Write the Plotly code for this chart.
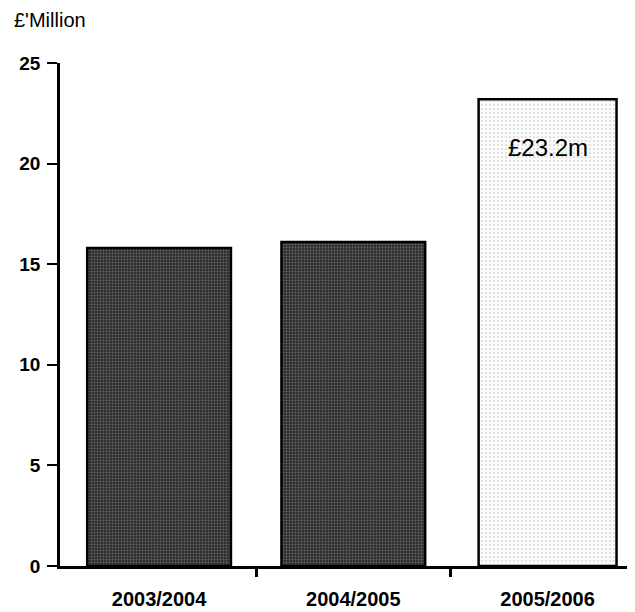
import plotly.graph_objects as go

categories = ["2003/2004", "2004/2005", "2005/2006"]
values = [15.8, 16.1, 23.2]
bar_label = "£23.2m"
y_title = "£'Million"

FONT = "Liberation Sans, Arial"
fig = go.Figure()
xpos = list(range(len(categories)))

fig.add_trace(go.Bar(
    x=xpos[:2], y=values[:2], width=0.74,
    marker=dict(color="#3a3a3a", line=dict(color="black", width=2.5),
                pattern=dict(shape=".", fgcolor="#a0a0a0", bgcolor="#2e2e2e", size=3, solidity=0.3)),
    hoverinfo="skip",
))
fig.add_trace(go.Bar(
    x=xpos[2:], y=values[2:], width=0.71,
    marker=dict(color="white", line=dict(color="black", width=2.5),
                pattern=dict(shape=".", fgcolor="#b5b5b5", bgcolor="#fbfbfb", size=4, solidity=0.2)),
    hoverinfo="skip",
))

fig.add_annotation(x=2, y=20.8, xref="x", yref="y", text=bar_label, showarrow=False,
                   font=dict(family=FONT, size=24, color="black"))
fig.add_annotation(x=-48/575, y=1 + 43/503, xref="paper", yref="paper", text=y_title,
                   showarrow=False, xanchor="left", yanchor="middle",
                   font=dict(family=FONT, size=20, color="black"))

fig.update_layout(
    width=627, height=604,
    margin=dict(l=52, r=0, t=55, b=46, pad=0),
    plot_bgcolor="white", paper_bgcolor="white",
    showlegend=False, barmode="overlay",
    xaxis=dict(range=[-0.51, 2.45], tickvals=xpos, ticktext=categories, ticks="",
               showline=True, linecolor="black", linewidth=2.5, showgrid=False, zeroline=False,
               tickfont=dict(family=FONT, size=20, color="black", weight="bold"),
               ticklabelstandoff=13, automargin=False,
               minor=dict(tickvals=[0.5, 1.5], ticks="outside", ticklen=8, tickwidth=2.5, tickcolor="black")),
    yaxis=dict(range=[0, 25], tickvals=[0, 5, 10, 15, 20, 25], ticks="outside", ticklen=10, tickwidth=2,
               tickcolor="black", showline=True, linecolor="black", linewidth=2.5, showgrid=False, zeroline=False,
               tickfont=dict(family=FONT, size=19, color="black", weight="bold"),
               ticklabelstandoff=3, automargin=False),
)

fig.write_html("out.html")
